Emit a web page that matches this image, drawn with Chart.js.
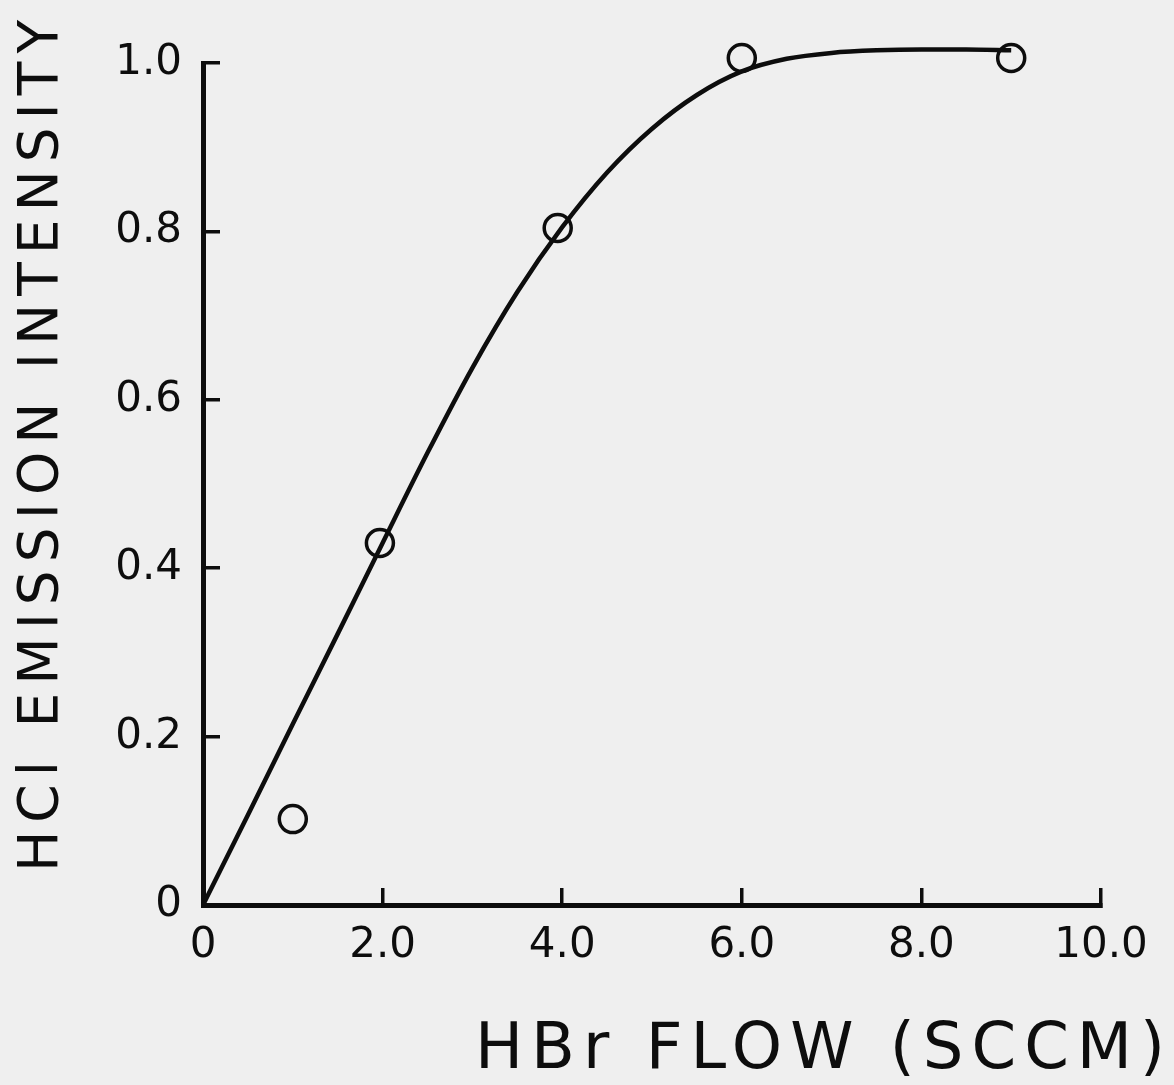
<!DOCTYPE html>
<html>
<head>
<meta charset="utf-8">
<title>HCl emission vs HBr flow</title>
<script src="https://cdn.jsdelivr.net/npm/chart.js@4.4.1/dist/chart.umd.min.js"></script>
<style>
  html, body { margin: 0; padding: 0; background: #efefef; }
  #wrap { width: 1174px; height: 1085px; }
</style>
</head>
<body>
<div id="wrap"><canvas id="chart"></canvas></div>
<script>
// measured points (open circles)
const flowPoints = [1.0, 1.97, 3.95, 6.0, 9.0];
const intensityPoints = [0.102, 0.43, 0.804, 1.006, 1.006];

// the drawn curve
const curveFlow = [0, 0.5, 1, 1.5, 2, 2.5, 3, 3.5, 4, 4.5, 5, 5.5, 6, 6.5, 7, 7.5, 8, 8.5, 9];
const curveIntensity = [0, 0.107, 0.215, 0.322, 0.43, 0.537, 0.638, 0.728, 0.805, 0.87, 0.922, 0.962, 0.99, 1.005, 1.012, 1.015, 1.016, 1.016, 1.015];

const xTicks = [0, 2, 4, 6, 8, 10];
const xTickLabels = ['0', '2.0', '4.0', '6.0', '8.0', '10.0'];
const yTicks = [0, 0.2, 0.4, 0.6, 0.8, 1.0];
const yTickLabels = ['0', '0.2', '0.4', '0.6', '0.8', '1.0'];

const ink = '#0d0d0d';
const font = 'DejaVu Sans';

// wide lettering for the axis titles, slight for the tick labels
const letterSpacing = {
    id: 'letterSpacing',
    beforeDraw(chart) { chart.ctx.letterSpacing = '8px'; },
    beforeDatasetsDraw(chart) { chart.ctx.letterSpacing = '0px'; }
};

const ctx = document.getElementById('chart').getContext('2d');

new Chart(ctx, {
    type: 'scatter',
    data: {
        datasets: [
            {
                type: 'line',
                data: curveFlow.map((x, i) => ({ x, y: curveIntensity[i] })),
                borderColor: ink,
                borderWidth: 4.5,
                pointRadius: 0,
                cubicInterpolationMode: 'monotone',
                fill: false,
                clip: false
            },
            {
                data: flowPoints.map((x, i) => ({ x, y: intensityPoints[i] })),
                pointStyle: 'circle',
                pointRadius: 13.5,
                pointBorderWidth: 3.5,
                pointBorderColor: ink,
                pointBackgroundColor: 'rgba(0,0,0,0)',
                showLine: false,
                clip: false
            }
        ]
    },
    options: {
        responsive: true,
        maintainAspectRatio: false,
        animation: false,
        events: [],
        layout: { padding: { top: 12, right: 1, left: 0, bottom: 0 } },
        plugins: {
            legend: { display: false },
            tooltip: { enabled: false },
            title: {
                display: true,
                text: 'HBr FLOW (SCCM)',
                position: 'bottom',
                align: 'end',
                color: ink,
                font: { family: font, size: 64, weight: 'normal', lineHeight: 1 },
                padding: { top: 0, bottom: 2 }
            },
            subtitle: {
                display: true,
                text: 'HCl EMISSION INTENSITY',
                position: 'left',
                align: 'end',
                color: ink,
                font: { family: font, size: 55, weight: 'normal', lineHeight: 1 },
                padding: { top: 15, bottom: 0 }
            }
        },
        scales: {
            x: {
                type: 'linear',
                min: 0,
                max: 10,
                afterBuildTicks: (scale) => { scale.ticks = xTicks.map(v => ({ value: v })); },
                afterFit: (scale) => { scale.height = 114; scale.paddingRight = 73; },
                border: { color: ink, width: 5 },
                grid: { drawOnChartArea: false, color: ink, lineWidth: 3.5, tickLength: -17 },
                ticks: {
                    z: 1,
                    color: ink,
                    padding: 33,
                    maxRotation: 0,
                    autoSkip: false,
                    font: { family: font, size: 42, lineHeight: 1.2 },
                    callback: (value, i) => xTickLabels[i]
                }
            },
            y: {
                type: 'linear',
                min: 0,
                max: 1,
                afterBuildTicks: (scale) => { scale.ticks = yTicks.map(v => ({ value: v })); },
                afterFit: (scale) => { scale.width = 133; scale.paddingTop = 63; },
                border: { color: ink, width: 5 },
                grid: { drawOnChartArea: false, color: ink, lineWidth: 3.5, tickLength: -17 },
                ticks: {
                    z: 1,
                    color: ink,
                    padding: 38,
                    autoSkip: false,
                    font: { family: font, size: 42, lineHeight: 1.2 },
                    callback: (value, i) => yTickLabels[i]
                }
            }
        }
    },
    plugins: [letterSpacing]
});
</script>
</body>
</html>
